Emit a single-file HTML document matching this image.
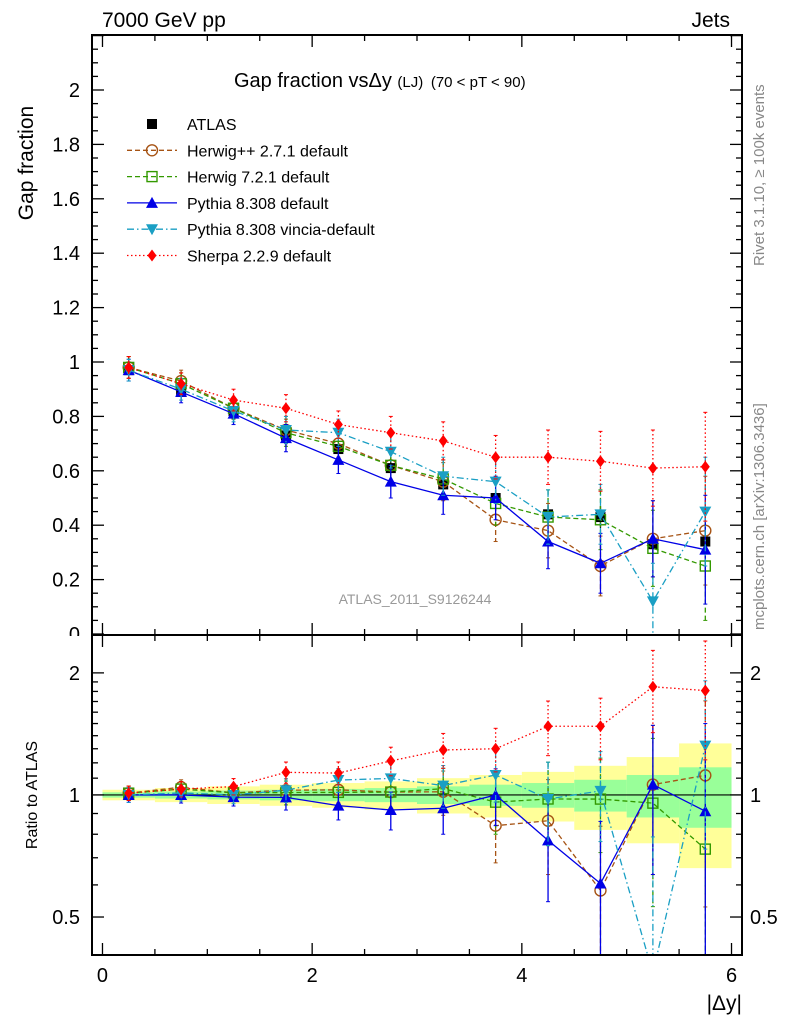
<!DOCTYPE html>
<html><head><meta charset="utf-8"><style>
body{margin:0;background:#fff;width:786px;height:1024px;overflow:hidden}
svg{font-family:"Liberation Sans",sans-serif}
</style></head><body>
<svg id="c" width="786" height="1024"></svg>
<script>
const xs=[0.25,0.75,1.25,1.75,2.25,2.75,3.25,3.75,4.25,4.75,5.25,5.75];
const atlas=[0.97,0.89,0.82,0.73,0.68,0.61,0.55,0.50,0.44,0.43,0.33,0.34];
const atlasErr=[0.01,0.012,0.015,0.018,0.02,0.022,0.025,0.03,0.035,0.04,0.05,0.06];
const herwigpp=[0.98,0.93,0.83,0.75,0.70,0.62,0.56,0.42,0.38,0.25,0.35,0.38];
const herwig7=[0.98,0.92,0.83,0.74,0.69,0.62,0.57,0.48,0.43,0.42,0.315,0.25];
const pythia=[0.97,0.89,0.81,0.72,0.64,0.56,0.51,0.50,0.34,0.26,0.35,0.31];
const vincia=[0.97,0.90,0.82,0.75,0.74,0.67,0.58,0.56,0.43,0.44,0.12,0.45];
const sherpa=[0.98,0.92,0.86,0.83,0.77,0.74,0.71,0.65,0.65,0.635,0.61,0.615];
const mcErr=[0.04,0.04,0.04,0.05,0.05,0.06,0.07,0.08,0.1,0.11,0.14,0.2];
const bandG=[0.015,0.02,0.025,0.03,0.035,0.04,0.05,0.06,0.07,0.09,0.12,0.17];
const xTicks=[0,2,4,6];
const yTicks=[0,0.2,0.4,0.6,0.8,1,1.2,1.4,1.6,1.8,2];
const rTicks=[0.5,1,2];

const NS="http://www.w3.org/2000/svg";
const svg=document.getElementById('c');
function el(t,a,p){const e=document.createElementNS(NS,t);for(const k in a)e.setAttribute(k,a[k]);(p||svg).appendChild(e);return e;}
const L=92,R=742,T1=35,B1=635,T2=635,B2=955;
const X=v=>L+(v+0.1)/6.2*(R-L);
const Y=v=>634-v*272;
const lrMin=Math.log2(0.403),lrMax=Math.log2(2.48);
const YR=v=>B2-(Math.log2(v)-lrMin)/(lrMax-lrMin)*(B2-T2);

const defs=el('defs',{});
const c1=el('clipPath',{id:'cp1'},defs);el('rect',{x:L,y:T1,width:R-L,height:B1-T1},c1);
const c2=el('clipPath',{id:'cp2'},defs);el('rect',{x:L,y:T2,width:R-L,height:B2-T2},c2);

const gb=el('g',{'clip-path':'url(#cp2)'});


xs.forEach((x,i)=>{
  const g=bandG[i];
  el('rect',{x:X(x-0.25),y:YR(1+2*g),width:X(x+0.25)-X(x-0.25),height:YR(Math.max(1-2*g,0.41))-YR(1+2*g),fill:'#ffff99'},gb);
});
xs.forEach((x,i)=>{
  const g=bandG[i];
  el('rect',{x:X(x-0.25),y:YR(1+g),width:X(x+0.25)-X(x-0.25),height:YR(1-g)-YR(1+g),fill:'#99ff99'},gb);
});
el('line',{x1:L,x2:R,y1:YR(1),y2:YR(1),stroke:'#000','stroke-width':1.2});

const series=[
 {name:'herwigpp',d:herwigpp,col:'#a65314',dash:'5,3',mk:'circle'},
 {name:'herwig7',d:herwig7,col:'#339900',dash:'5,3',mk:'square-open'},
 {name:'pythia',d:pythia,col:'#0000e6',dash:'',mk:'tri-up'},
 {name:'vincia',d:vincia,col:'#1a9fc4',dash:'7,3,1.5,3',mk:'tri-down'},
 {name:'sherpa',d:sherpa,col:'#ff0000',dash:'1.5,2.5',mk:'diamond'}
];
function marker(g,type,x,y,col){
  if(type==='circle')el('circle',{cx:x,cy:y,r:5.5,fill:'none',stroke:col,'stroke-width':1.4},g);
  else if(type==='square-open')el('rect',{x:x-5,y:y-5,width:10,height:10,fill:'none',stroke:col,'stroke-width':1.4},g);
  else if(type==='square')el('rect',{x:x-5,y:y-5,width:10,height:10,fill:col},g);
  else if(type==='tri-up')el('polygon',{points:`${x},${y-6} ${x-6},${y+5} ${x+6},${y+5}`,fill:col},g);
  else if(type==='tri-down')el('polygon',{points:`${x},${y+6} ${x-6},${y-5} ${x+6},${y-5}`,fill:col},g);
  else if(type==='diamond')el('polygon',{points:`${x},${y-6} ${x-4.5},${y} ${x},${y+6} ${x+4.5},${y}`,fill:col},g);
}
function drawSeries(s,panel){
  const g=el('g',{'clip-path':panel?'url(#cp2)':'url(#cp1)'});
  
  
  const vals=s.d.map((v,i)=>panel?v/atlas[i]:v);
  const ys=vals.map(v=>panel?YR(Math.max(v,0.2)):Y(v));
  xs.forEach((x,i)=>{
    const e=panel?mcErr[i]/atlas[i]:mcErr[i];
    const v=vals[i];
    const y1=panel?YR(v+e):Y(v+e),y2=panel?YR(Math.max(v-e,0.2)):Y(v-e);
    el('line',{x1:X(x),x2:X(x),y1:y1,y2:y2,stroke:s.col,'stroke-width':1.3,'stroke-dasharray':s.dash||'none'},g);
    el('line',{x1:X(x)-2,x2:X(x)+2,y1:y1,y2:y1,stroke:s.col},g);
    el('line',{x1:X(x)-2,x2:X(x)+2,y1:y2,y2:y2,stroke:s.col},g);
  });
  el('polyline',{points:xs.map((x,i)=>X(x)+','+ys[i]).join(' '),fill:'none',stroke:s.col,'stroke-width':1.3,'stroke-dasharray':s.dash||'none'},g);
  xs.forEach((x,i)=>marker(g,s.mk,X(x),ys[i],s.col));
}
const ga=el('g',{'clip-path':'url(#cp1)'});


xs.forEach((x,i)=>{
  el('line',{x1:X(x),x2:X(x),y1:Y(atlas[i]+atlasErr[i]),y2:Y(atlas[i]-atlasErr[i]),stroke:'#000','stroke-width':1.3},ga);
  marker(ga,'square',X(x),Y(atlas[i]),'#000');
});
series.forEach(s=>drawSeries(s,false));
series.forEach(s=>drawSeries(s,true));

function frame(t,b,name){
  const f=el('rect',{x:L,y:t,width:R-L,height:b-t,fill:'none',stroke:'#000','stroke-width':2});
  
  for(let v=0;v<=6.01;v+=0.5){
    const maj=Math.abs(v%2)<1e-6;const len=maj?12:6;
    el('line',{x1:X(v),x2:X(v),y1:b,y2:b-len,stroke:'#000','stroke-width':1.3});
    el('line',{x1:X(v),x2:X(v),y1:t,y2:t+len,stroke:'#000','stroke-width':1.3});
  }
}
frame(T1,B1,'main-plot-frame');frame(T2,B2,'ratio-plot-frame');
for(let v=0;v<=2.2;v+=0.05){
  const r=Math.round(v*100);const maj=r%20===0;const len=maj?12:6;
  el('line',{x1:L,x2:L+len,y1:Y(v),y2:Y(v),stroke:'#000','stroke-width':1.3});
  el('line',{x1:R,x2:R-len,y1:Y(v),y2:Y(v),stroke:'#000','stroke-width':1.3});
}
const rmin=[0.5,0.6,0.7,0.8,0.9,1,1.1,1.2,1.3,1.4,1.5,1.6,1.7,1.8,1.9,2];
rmin.forEach(v=>{const maj=rTicks.includes(v);const len=maj?12:6;
  el('line',{x1:L,x2:L+len,y1:YR(v),y2:YR(v),stroke:'#000','stroke-width':1.3});
  el('line',{x1:R,x2:R-len,y1:YR(v),y2:YR(v),stroke:'#000','stroke-width':1.3});});
function txt(s,a,name){const t=el('text',a);t.textContent=s;return t;}
xTicks.forEach(v=>txt(v,{x:X(v),y:982,'font-size':20,'text-anchor':'middle'},'x-tick-label'));
yTicks.forEach(v=>txt(v,{x:80,y:Y(v)+7,'font-size':20,'text-anchor':'end'},'y-tick-label'));
rTicks.forEach(v=>{txt(v,{x:80,y:YR(v)+7,'font-size':20,'text-anchor':'end'},'ratio-tick-label');
  txt(v,{x:750,y:YR(v)+7,'font-size':20},'ratio-tick-label-right');});
el('rect',{x:40,y:636,width:50,height:6,fill:'#fff'});

txt('7000 GeV pp',{x:102,y:27,'font-size':21},'energy-label');
txt('Jets',{x:730,y:27,'font-size':21,'text-anchor':'end'},'process-label');
txt('Gap fraction',{x:0,y:0,'font-size':21,transform:'translate(33,163) rotate(-90)','text-anchor':'middle'},'y-axis-title');
txt('Ratio to ATLAS',{x:0,y:0,'font-size':16,transform:'translate(37,795) rotate(-90)','text-anchor':'middle'},'ratio-axis-title');
txt('|Δy|',{x:742,y:1010,'font-size':21,'text-anchor':'end'},'x-axis-title');
const tt=txt('',{x:234,y:87,'font-size':20},'plot-title');
tt.innerHTML='Gap fraction vsΔy <tspan font-size="15">(LJ)</tspan> <tspan font-size="15" dx="2">(70 &lt; pT &lt;  90)</tspan>';
txt('ATLAS_2011_S9126244',{x:415,y:604,'font-size':14,fill:'#999','text-anchor':'middle'},'analysis-label');
txt('Rivet 3.1.10, ≥ 100k events',{x:0,y:0,'font-size':15,fill:'#888',transform:'translate(764,266) rotate(-90)'},'rivet-label');
txt('mcplots.cern.ch [arXiv:1306.3436]',{x:0,y:0,'font-size':15,fill:'#888',transform:'translate(764,630) rotate(-90)'},'mcplots-label');

const leg=[{n:'ATLAS',col:'#000',mk:'square',dash:null},...series.map((s,i)=>({n:['Herwig++ 2.7.1 default','Herwig 7.2.1 default','Pythia 8.308 default','Pythia 8.308 vincia-default','Sherpa 2.2.9 default'][i],col:s.col,mk:s.mk,dash:s.dash}))];
leg.forEach((e,i)=>{
  const y=124+i*26.3;
  const g=el('g',{});
  
  
  if(e.dash!==null)el('line',{x1:127,x2:177,y1:y,y2:y,stroke:e.col,'stroke-width':1.3,'stroke-dasharray':e.dash||'none'},g);
  marker(g,e.mk,152,y,e.col);
  const t=el('text',{x:187,y:y+6,'font-size':16},g);t.textContent=e.n;
});
</script>
</body></html>
